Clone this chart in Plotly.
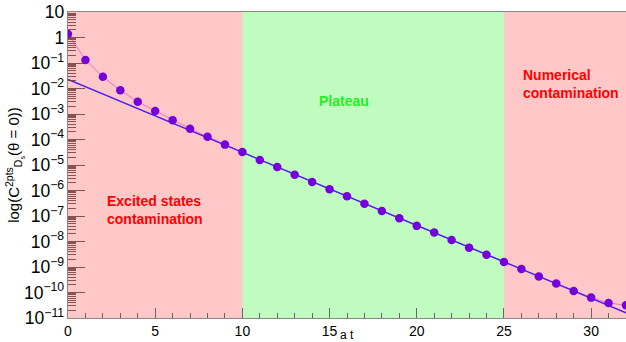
import plotly.graph_objects as go

# data
t_vals = list(range(0, 33))
corr_vals = [1.38, 0.132, 0.0288, 0.0085, 0.0030, 0.00132, 5.75e-4, 2.63e-4, 1.29e-4, 6.3e-5,
             3.24e-5, 1.58e-5, 8.3e-6, 4.17e-6, 2.14e-6, 1.12e-6, 5.9e-7, 3.0e-7, 1.58e-7, 8.1e-8,
             4.1e-8, 2.24e-8, 1.15e-8, 5.75e-9, 3.0e-9, 1.58e-9, 8.3e-10, 4.27e-10, 2.24e-10,
             1.15e-10, 6.3e-11, 3.9e-11, 3.16e-11]
fit_t = [0, 32]
fit_vals = [0.0229, 1.58e-11]

regions = [(0, 10, "#ffc8c8"), (10, 25, "#c0fcc0"), (25, 32, "#ffc8c8")]
x_ticks = [0, 5, 10, 15, 20, 25, 30]

fig = go.Figure()

fig.add_trace(go.Scatter(x=t_vals, y=corr_vals, mode="lines",
                         line=dict(color="#ff66cc", width=1), showlegend=False))
fig.add_trace(go.Scatter(x=fit_t, y=fit_vals, mode="lines",
                         line=dict(color="#4a1ff0", width=1.5), showlegend=False))
fig.add_trace(go.Scatter(x=t_vals, y=corr_vals, mode="markers",
                         marker=dict(color="#7400dc", size=8.5), showlegend=False))

for x0, x1, c in regions:
    fig.add_shape(type="rect", xref="x", yref="paper", x0=x0, x1=x1, y0=0, y1=1,
                  fillcolor=c, line=dict(width=0), layer="below")

font = "Liberation Sans, Arial, sans-serif"
fig.add_annotation(x=2.1, y=-6.76, xref="x", yref="y", xanchor="left", yanchor="middle",
                   text="<b>Excited states<br>contamination</b>", showarrow=False, align="left",
                   font=dict(family=font, size=14, color="#ff0000"))
fig.add_annotation(x=14.3, y=-2.49, xref="x", yref="y", xanchor="left", yanchor="middle",
                   text="<b>Plateau</b>", showarrow=False, align="left",
                   font=dict(family=font, size=14, color="#22ee22"))
fig.add_annotation(x=26.0, y=-1.82, xref="x", yref="y", xanchor="left", yanchor="middle",
                   text="<b>Numerical<br>contamination</b>", showarrow=False, align="left",
                   font=dict(family=font, size=14, color="#ff0000"))
fig.add_annotation(x=0.5, y=0, xref="paper", yref="paper", xanchor="center", yanchor="middle",
                   yshift=-17, text="a t", showarrow=False,
                   font=dict(family=font, size=12, color="black"))

fig.update_layout(
    width=626, height=342,
    margin=dict(l=68, r=0, t=12, b=24),
    paper_bgcolor="white", plot_bgcolor="#ffc8c8",
    font=dict(family=font, size=14, color="black"),
    xaxis=dict(range=[0, 32], tickvals=x_ticks, ticks="inside", ticklen=10,
               tickcolor="#666", showgrid=False, zeroline=False, automargin=False,
               showline=True, linecolor="#888", mirror=True,
               minor=dict(dtick=1, ticks="inside", ticklen=5, tickcolor="#666"),
               tickfont=dict(size=14)),
    yaxis=dict(type="log", range=[-11, 1], dtick=1, exponentformat="power",
               ticks="inside", ticklen=17, tickcolor="rgba(110,50,50,0.8)",
               showgrid=False, zeroline=False, showline=True, linecolor="#888",
               automargin=False,
               minor=dict(dtick="D1", ticks="inside", ticklen=8,
                          tickcolor="rgba(110,50,50,0.8)", showgrid=False),
               title=dict(text="log(C<sup>2pts</sup><sub>D<sub>s</sub></sub>(θ = 0))",
                          font=dict(size=15), standoff=0),
               tickfont=dict(size=14)),
)

fig.write_html("out.html", config={"displayModeBar": False},
               post_script="document.body.style.margin='0';document.body.style.overflow='hidden';")
